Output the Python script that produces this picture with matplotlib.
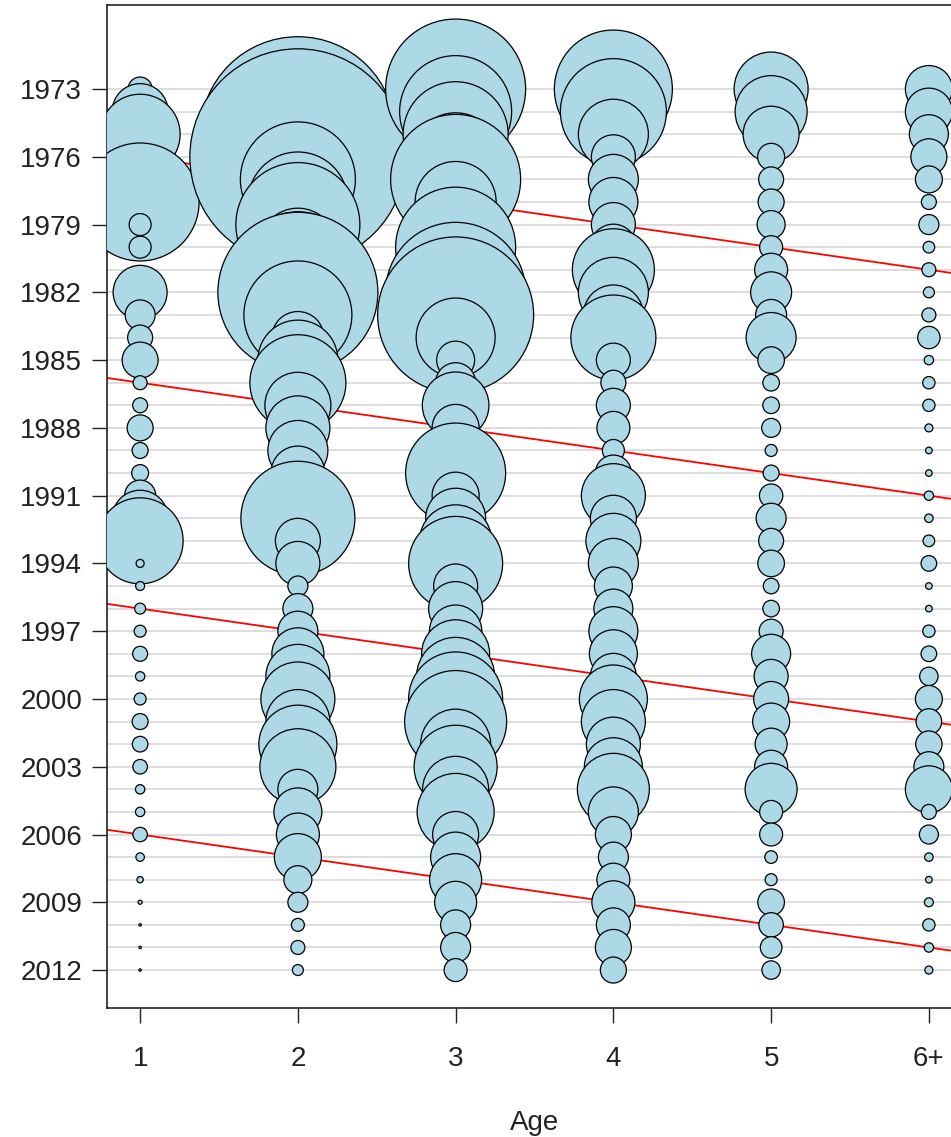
import matplotlib.pyplot as plt
import numpy as np

plt.rcParams['font.family'] = ['Liberation Sans', 'DejaVu Sans']

# catch at age, relative units (bubble area is proportional to catch)
years = np.arange(1973, 2013)
ages = [1, 2, 3, 4, 5, 6]
age_labels = ['1', '2', '3', '4', '5', '6+']
cohorts = [1975, 1985, 1995, 2005]

age1 = [144, 784, 1600, 100, 625, 3481, 121, 121, 9, 729,
        225, 156, 324, 49, 56, 169, 64, 72, 243, 784,
        1849, 16, 20, 30, 36, 56, 22, 36, 64, 61,
        53, 22, 22, 52, 18, 10, 4, 1.4, 1.4, 1.4]
age2 = [1600, 3600, 9506, 11664, 3306, 2500, 3844, 1521, 3364, 6400,
        2916, 676, 1600, 2304, 1089, 1024, 900, 729, 900, 3249,
        506, 484, 100, 225, 400, 676, 1024, 1369, 1024, 1521,
        1444, 400, 576, 462, 552, 196, 100, 42, 49, 30]
age3 = [4900, 3136, 2756, 1936, 4225, 1640, 1225, 3600, 2025, 4900,
        6084, 1560, 361, 400, 1109, 552, 484, 2500, 552, 900,
        1296, 2209, 484, 729, 686, 1156, 1521, 2209, 2601, 1225,
        1722, 1089, 1482, 529, 625, 676, 441, 225, 225, 132]
age4 = [3481, 2809, 1225, 484, 625, 600, 484, 529, 1681, 1225,
        900, 1806, 289, 156, 289, 272, 121, 324, 1024, 529,
        756, 625, 361, 380, 600, 576, 529, 1156, 1024, 729,
        841, 1296, 625, 324, 225, 272, 462, 289, 324, 169]
age5 = [1369, 1296, 784, 182, 156, 169, 196, 132, 272, 420,
        240, 625, 177, 69, 69, 90, 36, 64, 137, 225,
        156, 177, 61, 69, 144, 380, 289, 306, 342, 256,
        272, 676, 132, 132, 40, 36, 177, 149, 117, 85]
age6 = [552, 552, 380, 324, 182, 56, 100, 34, 49, 30,
        49, 125, 22, 38, 38, 16, 11, 11, 22, 18,
        34, 61, 11, 11, 38, 61, 85, 182, 164, 174,
        225, 552, 56, 90, 18, 11, 20, 38, 22, 16]

catch = np.array([age1, age2, age3, age4, age5, age6])

dpi = 100
fig = plt.figure(figsize=(9.51, 11.37), dpi=dpi)
ax = fig.add_axes([107/951, 129/1137, 855/951, 1003/1137])

for yr in years:
    ax.axhline(yr, color='#dadada', lw=1.3, zorder=1)

xx = np.array([0.5, 6.5])
for c in cohorts:
    ax.plot(xx, c + xx, color='red', lw=1.3, zorder=2)

# one scatter in age then year order, later bubbles drawn on top
px = np.repeat(ages, len(years))
py = np.tile(years, len(ages))
sizes = catch.ravel() * (2 * 72 / dpi) ** 2
ax.scatter(px, py, s=sizes, facecolor='#add8e6', edgecolor='black',
           linewidths=0.9, zorder=3)

ax.set_xlim(0.79, 6.21)
ax.set_ylim(2013.68, 1969.28)
ax.set_xticks(ages)
ax.set_xticklabels(age_labels)
ax.set_yticks(years[::3])
ax.tick_params(axis='both', length=11, width=1, labelsize=20, colors='#222222')
ax.tick_params(axis='y', pad=7)
ax.tick_params(axis='x', pad=16)
for s in ax.spines.values():
    s.set_linewidth(1.2)
    s.set_color('#222222')

ax.set_xlabel('Age', fontsize=20, color='#222222')
ax.xaxis.set_label_coords(0.5, -0.1147)
ax.xaxis.label.set_va('center')

fig.savefig('out.png', dpi=dpi)
